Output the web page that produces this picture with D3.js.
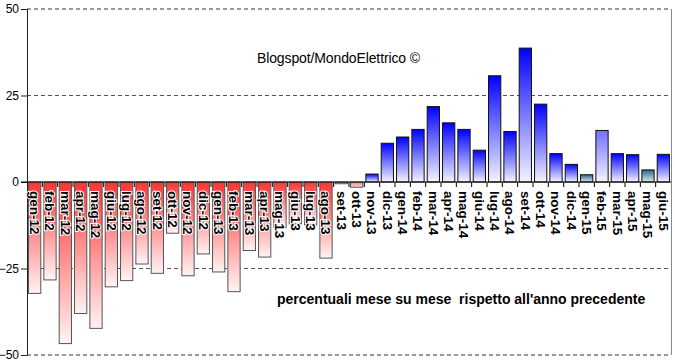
<!DOCTYPE html>
<html>
<head>
<meta charset="utf-8">
<script src="https://cdn.jsdelivr.net/npm/d3@7"></script>
<style>
  body { margin: 0; background: #fff; }
  svg text { font-family: "Liberation Sans", Arial, sans-serif; }
</style>
</head>
<body>
<div id="chart"></div>
<script>
// months (gen-12 .. giu-15)
var months = ["gen-12","feb-12","mar-12","apr-12","mag-12","giu-12","lug-12","ago-12","set-12","ott-12","nov-12","dic-12",
              "gen-13","feb-13","mar-13","apr-13","mag-13","giu-13","lug-13","ago-13","set-13","ott-13","nov-13","dic-13",
              "gen-14","feb-14","mar-14","apr-14","mag-14","giu-14","lug-14","ago-14","set-14","ott-14","nov-14","dic-14",
              "gen-15","feb-15","mar-15","apr-15","mag-15","giu-15"];
// percent change vs same month of previous year
var values = [-32.2,-28.3,-46.7,-38,-42.3,-30.3,-28.5,-23.7,-26.4,-14.8,-27.1,-20.8,
              -26,-31.7,-19.8,-21.7,-13.2,-12.1,-12.4,-22,-0.5,-1.5,2.3,11.2,
              13,15.2,21.8,17.1,15.2,9.2,30.7,14.6,38.7,22.5,8.2,5.1,
              2.1,14.9,8.2,7.9,3.5,8];
var yTicks = [-50, -25, 0, 25, 50];
var titleText = "Blogspot/MondoElettrico \u00a9";
var noteText = "percentuali mese su mese  rispetto all'anno precedente";

var width = 675, height = 364;
var margin = { top: 9, right: 4, bottom: 9, left: 27 };

var svg = d3.select("#chart").append("svg")
    .attr("width", width)
    .attr("height", height);

var defs = svg.append("defs");
function grad(id, top, bottom) {
    var g = defs.append("linearGradient").attr("id", id)
        .attr("x1", 0).attr("y1", 0).attr("x2", 0).attr("y2", 1);
    g.append("stop").attr("offset", "0%").attr("stop-color", top);
    g.append("stop").attr("offset", "100%").attr("stop-color", bottom);
}
grad("gNeg", "#ff3333", "#fff4f4");
grad("gPos", "#0000ff", "#f4f4ff");
grad("gTeal", "#2f6688", "#dde8ee");
grad("gLight", "#7070ff", "#f4f4ff");
grad("gGray", "#888888", "#dddddd");
grad("gPink", "#f08080", "#ffd8d8");

// a few bars are drawn in another shade in the original
var special = { "gen-15": "gTeal", "mag-15": "gTeal", "feb-15": "gLight", "set-13": "gGray", "ott-13": "gPink" };

var x = d3.scaleBand()
    .domain(months)
    .range([margin.left, width - margin.right])
    .paddingInner(0.2)
    .paddingOuter(0.1);

var y = d3.scaleLinear()
    .domain([-50, 50])
    .range([height - margin.bottom, margin.top]);

// grid lines
svg.selectAll(".grid")
    .data(yTicks.filter(function(d) { return d !== 0; }))
    .enter().append("line")
    .attr("x1", margin.left).attr("x2", width - margin.right)
    .attr("y1", function(d) { return y(d); }).attr("y2", function(d) { return y(d); })
    .style("stroke", function(d) { return Math.abs(d) === 50 ? "#333" : "#555"; })
    .style("stroke-dasharray", "4,3")
    .style("stroke-width", 1);

// right frame
svg.append("line")
    .attr("x1", width - margin.right + 0.5).attr("x2", width - margin.right + 0.5)
    .attr("y1", y(50)).attr("y2", y(-50))
    .style("stroke", "#888");

// y axis
var yAxis = svg.append("g")
    .attr("transform", "translate(" + margin.left + ",0)")
    .call(d3.axisLeft(y).tickValues(yTicks).tickSize(6).tickPadding(2));
yAxis.select(".domain").style("stroke", "#222");
yAxis.selectAll(".tick line").style("stroke", "#222");
yAxis.selectAll("text").style("font-size", "12px").style("fill", "#000")
    .style("font-family", "'Liberation Sans', Arial, sans-serif");

// bars
svg.selectAll(".bar")
    .data(months)
    .enter().append("rect")
    .attr("class", "bar")
    .attr("x", function(d) { return x(d); })
    .attr("width", x.bandwidth())
    .attr("y", function(d, i) { return y(Math.max(0, values[i])); })
    .attr("height", function(d, i) { return Math.abs(y(values[i]) - y(0)); })
    .style("fill", function(d, i) {
        if (special[d]) return "url(#" + special[d] + ")";
        return values[i] < 0 ? "url(#gNeg)" : "url(#gPos)";
    })
    .style("stroke", function(d, i) { return values[i] < 0 ? "#555" : "#111"; })
    .style("stroke-width", 1);

// zero line with ticks between bars
var step = x.step();
svg.append("line")
    .attr("x1", margin.left - 6).attr("x2", width - margin.right)
    .attr("y1", y(0)).attr("y2", y(0))
    .style("stroke", "#000");
svg.selectAll(".xtick")
    .data(months.slice(1))
    .enter().append("line")
    .attr("x1", function(d) { return x(d) - step * 0.1; })
    .attr("x2", function(d) { return x(d) - step * 0.1; })
    .attr("y1", y(0)).attr("y2", y(0) + 5)
    .style("stroke", "#000");

// month labels, rotated, with white halo
svg.selectAll(".mlabel")
    .data(months)
    .enter().append("text")
    .attr("transform", function(d) {
        return "translate(" + (x(d) + x.bandwidth() / 2) + "," + (y(0) + 9) + ") rotate(90)";
    })
    .attr("dy", "0.35em")
    .text(function(d) { return d; })
    .style("font-size", "13.5px")
    .style("font-weight", "bold")
    .style("fill", "#000")
    .style("stroke", "#fff")
    .style("stroke-width", 2)
    .style("paint-order", "stroke");

svg.append("text")
    .attr("x", 257).attr("y", 63)
    .text(titleText)
    .style("font-size", "14px")
    .style("letter-spacing", "-0.12px")
    .style("fill", "#000");

svg.append("text")
    .attr("x", 277).attr("y", 304)
    .attr("xml:space", "preserve")
    .style("white-space", "pre")
    .text(noteText)
    .style("font-size", "14px")
    .style("font-weight", "bold")
    .style("fill", "#000");
</script>
</body>
</html>
